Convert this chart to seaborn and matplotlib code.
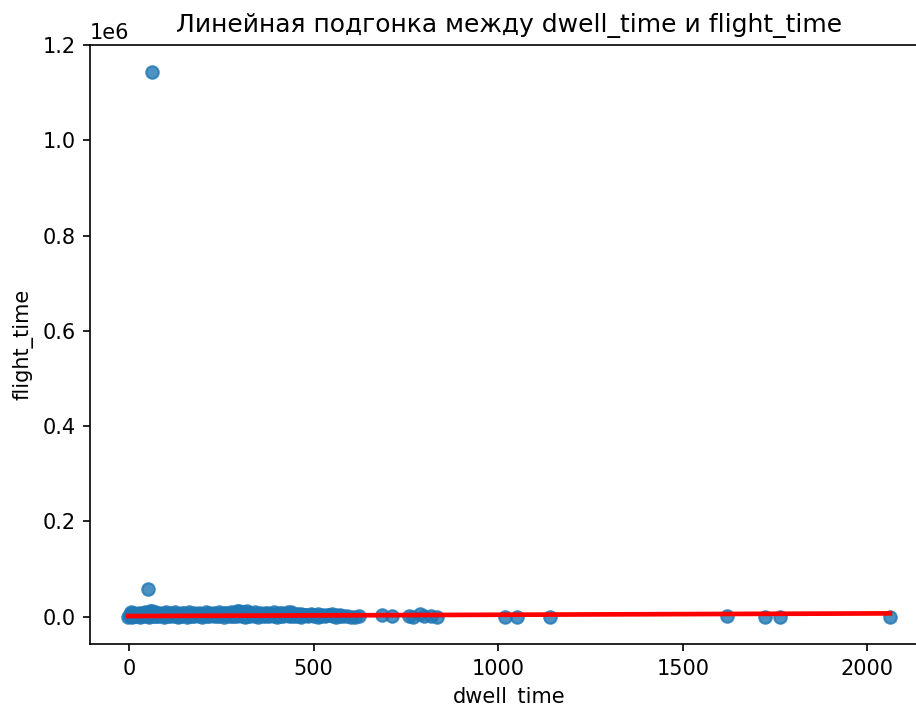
import matplotlib
matplotlib.use("Agg")
import matplotlib.pyplot as plt
import seaborn as sns
import pandas as pd

# ---- data ----
# dense cluster, lower band
dwell_low = [-3, 3, 7, 11, 15, 19, 24, 28, 33, 38,
             43, 48, 54, 59, 65, 70, 76, 82, 88, 94,
             100, 106, 112, 118, 125, 131, 137, 144, 150, 157,
             163, 170, 176, 183, 190, 196, 203, 210, 216, 223,
             230, 237, 243, 250, 257, 264, 271, 278, 285, 292,
             299, 306, 313, 320, 327, 334, 341, 348, 356, 363,
             370, 378, 385, 393, 400, 408, 416, 424, 432, 440,
             449, 457, 466, 475, 484, 493, 502, 512, 521, 531,
             541, 551, 561, 571, 580]
flight_low = [500, 1200, 0, 2300, 800, 1500, 3100, 400, 2000, 900,
              2700, 1300, 200, 3400, 1800, 600, 2500, 1000, 3000, 300,
              1700, 2200, 700, 2900, 1400, 100, 2600, 1100, 3300, 500,
              1900, 2400, 800, 3100, 1200, 0, 2800, 1600, 600, 3500,
              2100, 900, 1300, 2700, 400, 3200, 1800, 1000, 2300, 700,
              3000, 1500, 200, 2600, 1100, 3400, 1700, 500, 2900, 1300,
              2000, 800, 3100, 1600, 300, 2500, 1000, 3300, 1900, 600,
              2200, 1400, 0, 2800, 1100, 3000, 1700, 500, 2400, 900,
              2700, 1300, 400, 2000, 800]

# dense cluster, upper band
dwell_high = [1, 5, 9, 14, 20, 26, 31, 37, 44, 50,
              57, 63, 69, 75, 81, 87, 93, 99, 105, 111,
              117, 124, 130, 136, 143, 149, 156, 162, 169, 175,
              182, 189, 195, 202, 209, 215, 222, 229, 236, 242,
              249, 256, 263, 270, 277, 284, 291, 298, 305, 312,
              319, 326, 333, 340, 347, 355, 362, 369, 377, 384,
              392, 399, 407, 415, 423, 431, 439, 448, 456, 465,
              474, 483, 492, 501, 511, 520, 530, 540, 550, 560,
              570]
flight_high = [6500, 9000, 5200, 7800, 4600, 8400, 5800, 7100, 9300, 6000,
               11500, 12500, 10800, 6200, 8800, 5000, 7400, 9600, 5600, 8100,
               4400, 9200, 6800, 5400, 8600, 7200, 4800, 9800, 6300, 7700,
               5100, 8900, 6600, 4500, 9400, 7000, 5700, 8300, 6100, 9100,
               4900, 7600, 8700, 5500, 10200, 7300, 11800, 12200, 11000, 10500,
               12000, 8200, 6400, 9500, 5300, 7900, 4700, 8500, 6900, 5900,
               9000, 4400, 7500, 8800, 5600, 9700, 10600, 6700, 5200, 5000,
               4200, 3600, 5400, 4100, 5800, 3900, 4700, 3500, 5300, 4500,
               4000]

# sparse points to the right
dwell_sparse = [590, 600, 612, 622, 685, 712, 757, 770, 789, 800,
                817, 835, 1017, 1051, 1139, 1619, 1722, 1763, 2061]
flight_sparse = [2000, 500, 0, 1500, 3000, 800, 2500, 0, 5000, 1200,
                 600, 0, 0, 200, 0, 2500, 0, 0, 0]

# outliers
dwell_outlier = [61, 51]
flight_outlier = [1143000, 58700]

# fitted regression line (end points)
fit_dwell = [-3, 2061]
fit_flight = [1500, 7100]

title = "Линейная подгонка между dwell_time и flight_time"
xlabel = "dwell_time"
ylabel = "flight_time"

# ---- plot ----
df = pd.DataFrame({
    "dwell_time": dwell_low + dwell_high + dwell_sparse + dwell_outlier,
    "flight_time": flight_low + flight_high + flight_sparse + flight_outlier,
})

DPI = 150
W, H = 916, 706
fig = plt.figure(figsize=(W / DPI, H / DPI), dpi=DPI)
# the reference is cropped on the right: the axes box runs past the edge
ax = fig.add_axes([90 / W, 62 / H, 838 / W, 599 / H])

sns.regplot(data=df, x="dwell_time", y="flight_time", fit_reg=False,
            color="#1f77b4", ax=ax)
sns.regplot(x=fit_dwell, y=fit_flight, scatter=False, ci=None,
            color="red", ax=ax)

ax.set_title(title)
ax.set_xlabel(xlabel)
ax.set_ylabel(ylabel)
ax.spines["right"].set_visible(False)

fig.savefig("out.png", dpi=DPI)
